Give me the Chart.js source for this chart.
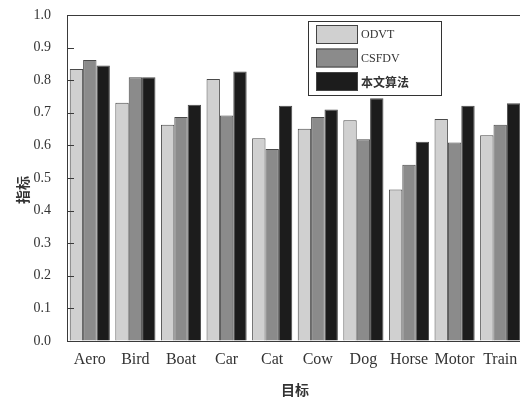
<!DOCTYPE html>
<html>
<head>
<meta charset="utf-8">
<script src="https://cdn.jsdelivr.net/npm/chart.js@4"></script>
<style>
html,body{margin:0;padding:0;background:#fff;overflow:hidden;}
#wrap{width:523px;height:399px;position:relative;}
</style>
</head>
<body>
<div id="wrap"><canvas id="chart"></canvas></div>
<script>
const categories=["Aero","Bird","Boat","Car","Cat","Cow","Dog","Horse","Motor","Train"];
const seriesNames=["ODVT","CSFDV","本文算法"];
const odvt=[0.834,0.731,0.663,0.804,0.622,0.651,0.677,0.465,0.681,0.631];
const csfdv=[0.862,0.809,0.687,0.692,0.589,0.687,0.619,0.541,0.609,0.663];
const ours=[0.845,0.809,0.725,0.827,0.722,0.710,0.745,0.611,0.722,0.729];
const yMin=0, yMax=1, yStep=0.1;
const xTitle="目标", yTitle="指标";

const colors=["#d0d0d0","#8b8b8b","#1c1c1c"];
const serif="'Liberation Serif','Times New Roman',serif";
const cjk="'Noto Sans CJK SC','Noto Sans',sans-serif";

// frame, inward ticks, legend box and y title
const extras={
    id:"extras",
    afterDraw(c){
        const ctx=c.ctx, a=c.chartArea, y=c.scales.y;
        ctx.save();
        ctx.strokeStyle="#3a3a3a";
        ctx.lineWidth=1;
        ctx.strokeRect(a.left+0.5,a.top+0.5,a.right-a.left,a.bottom-a.top);
        y.ticks.forEach((t,i)=>{
            const py=Math.round(y.getPixelForTick(i))+0.5;
            ctx.beginPath();
            ctx.moveTo(a.left,py);
            ctx.lineTo(a.left+7,py);
            ctx.stroke();
        });

        // legend
        const bx=308, by=21, bw=133, bh=74;
        ctx.strokeStyle="#333";
        ctx.strokeRect(bx+0.5,by+0.5,bw,bh);
        c.data.datasets.forEach((ds,i)=>{
            const sy=by+4+i*23.5;
            ctx.fillStyle=ds.backgroundColor;
            ctx.fillRect(bx+8,sy,42,19);
            ctx.strokeStyle="#444";
            ctx.strokeRect(bx+8.5,sy+0.5,41,18);
            ctx.fillStyle="#333";
            ctx.textBaseline="middle";
            ctx.textAlign="left";
            ctx.font=i==2 ? "bold 12px "+cjk : "12px "+serif;
            ctx.fillText(ds.label,bx+53,sy+10);
        });

        // y title
        ctx.translate(23,190);
        ctx.rotate(-Math.PI/2);
        ctx.font="bold 14px "+cjk;
        ctx.fillStyle="#333";
        ctx.textAlign="center";
        ctx.textBaseline="middle";
        ctx.fillText(yTitle,0,0);
        ctx.restore();
    }
};

const sets=[odvt,csfdv,ours].map((d,i)=>({
    label:seriesNames[i],
    data:d,
    backgroundColor:colors[i],
    borderColor:"#4a4a4a",
    borderWidth:1,
    categoryPercentage:0.88,
    barPercentage:1.0
}));

new Chart(document.getElementById("chart"),{
    type:"bar",
    data:{labels:categories,datasets:sets},
    plugins:[extras],
    options:{
        responsive:true,
        maintainAspectRatio:false,
        animation:false,
        layout:{padding:{top:15,left:0,right:0,bottom:0}},
        plugins:{legend:{display:false},tooltip:{enabled:false}},
        scales:{
            x:{
                grid:{display:true,drawOnChartArea:false,drawTicks:true,tickLength:5,color:"rgba(0,0,0,0)"},
                border:{display:false},
                ticks:{color:"#333",padding:4,maxRotation:0,minRotation:0,autoSkip:false,font:{family:serif,size:16}},
                title:{display:true,text:xTitle,color:"#333",padding:{top:0,bottom:1},font:{family:cjk,size:14,weight:"bold"}},
                afterFit:s=>{s.height=58;}
            },
            y:{
                min:yMin,max:yMax,
                grid:{display:true,drawOnChartArea:false,drawTicks:true,tickLength:15,color:"rgba(0,0,0,0)"},
                border:{display:false},
                ticks:{stepSize:yStep,color:"#333",padding:1,font:{family:serif,size:14},callback:v=>v.toFixed(1)},
                afterFit:s=>{s.width=67;}
            }
        }
    }
});
</script>
</body>
</html>
